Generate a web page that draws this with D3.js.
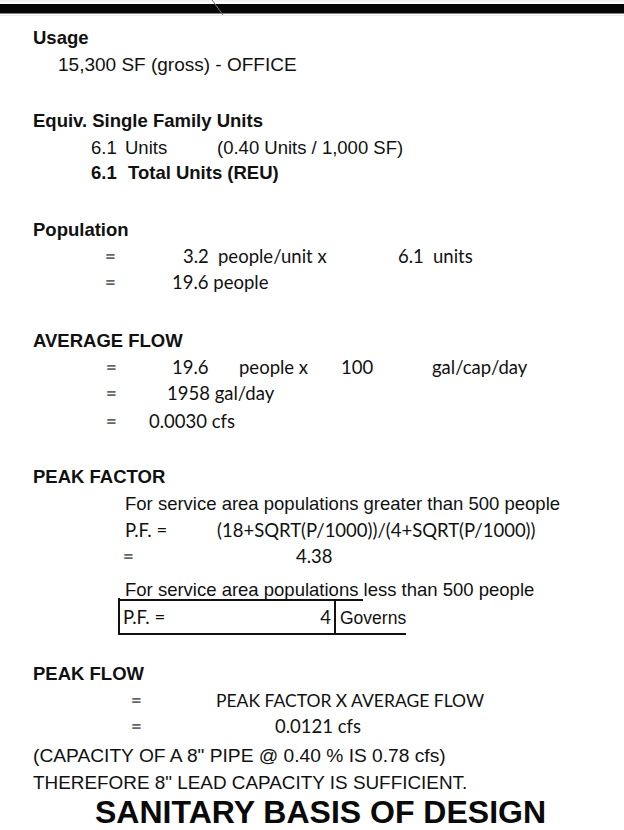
<!DOCTYPE html>
<html lang="en">

<head>
    <meta charset="UTF-8">
    <title>Sanitary Basis of Design</title>
    <script src="https://d3js.org/d3.v7.min.js"></script>
    <style>
        body {
            margin: 0;
            background: #fff;
        }

        .arial {
            font-family: "Liberation Sans", Arial, sans-serif;
            font-size: 18.5px;
            fill: #111;
        }

        .cali {
            font-family: Lato, Carlito, Calibri, sans-serif;
            font-size: 18.5px;
            fill: #111;
        }

        .bold {
            font-weight: bold;
        }

        .eq {
            fill: #666;
            font-weight: bold;
        }

        .box {
            stroke: #111;
            stroke-width: 2px;
            fill: none;
        }
    </style>
</head>

<body>
    <svg></svg>
</body>

<script>
    // values
    const headings = ["Usage", "Equiv. Single Family Units", "Population", "AVERAGE FLOW", "PEAK FACTOR", "PEAK FLOW"];
    const usage = ["15,300 SF (gross) - OFFICE"];
    const unitsRow = ["6.1", "Units", "(0.40 Units / 1,000 SF)"];
    const totalRow = ["6.1", "Total Units (REU)"];
    const populationRows = [
        ["=", "3.2", "people/unit x", "6.1", "units"],
        ["=", "19.6 people"]
    ];
    const flowRows = [
        ["=", "19.6", "people x", "100", "gal/cap/day"],
        ["=", "1958 gal/day"],
        ["=", "0.0030 cfs"]
    ];
    const peakFactorRows = [
        ["For service area populations greater than 500 people"],
        ["P.F. =", "(18+SQRT(P/1000))/(4+SQRT(P/1000))"],
        ["=", "4.38"],
        ["For service area populations less than 500 people"],
        ["P.F. =", "4", "Governs"]
    ];
    const peakFlowRows = [
        ["=", "PEAK FACTOR X AVERAGE FLOW"],
        ["=", "0.0121 cfs"]
    ];
    const notes = ["(CAPACITY OF A 8\" PIPE @ 0.40 % IS 0.78 cfs)", "THEREFORE 8\" LEAD CAPACITY IS SUFFICIENT."];
    const title = "SANITARY BASIS OF DESIGN";

    const width = 624, height = 830;

    const svg = d3.select("svg")
        .attr("width", width)
        .attr("height", height);

    // line number -> baseline
    const row = d3.scaleLinear().domain([0, 1]).range([44, 70.5]);

    // heavy rule across the top of the sheet
    svg.append("line")
        .attr("x1", 0).attr("x2", width)
        .attr("y1", 1).attr("y2", 1)
        .attr("stroke", "#e4e4e4");
    svg.append("rect")
        .attr("x", 0).attr("y", 4)
        .attr("width", width).attr("height", 9.5)
        .attr("fill", "#050505");
    svg.append("line")
        .attr("x1", 0).attr("x2", width)
        .attr("y1", 15.5).attr("y2", 15.5)
        .attr("stroke", "#ececec");
    svg.append("line")
        .attr("x1", 212).attr("y1", 0).attr("x2", 223).attr("y2", 15)
        .attr("stroke", "#777").attr("stroke-width", 1);

    // every line of the sheet: line number + cells [text, x, class, anchor, size]
    const A = "arial", C = "cali", B = "arial bold", E = "cali eq";
    const lines = [
        { u: 0, cells: [[headings[0], 33, B]] },
        { u: 1, cells: [[usage[0], 58, A, "start", 19]] },
        { u: 3.15, cells: [[headings[1], 33, B]] },
        { u: 4.15, cells: [[unitsRow[0], 91, A], [unitsRow[1], 125, A], [unitsRow[2], 217, A]] },
        { u: 5.1, cells: [[totalRow[0], 91, B], [totalRow[1], 128, B]] },
        { u: 7.25, cells: [[headings[2], 33, B]] },
        { u: 8.25, cells: [[populationRows[0][0], 105, E], [populationRows[0][1], 183, C], [populationRows[0][2], 218, C],
            [populationRows[0][3], 398, C], [populationRows[0][4], 433, C]] },
        { u: 9.25, cells: [[populationRows[1][0], 105, E], [populationRows[1][1], 172, C]] },
        { u: 11.45, cells: [[headings[3], 33, B]] },
        { u: 12.45, cells: [[flowRows[0][0], 106, E], [flowRows[0][1], 172, C], [flowRows[0][2], 239, C],
            [flowRows[0][3], 341, C], [flowRows[0][4], 432, C]] },
        { u: 13.45, cells: [[flowRows[1][0], 106, E], [flowRows[1][1], 167, C]] },
        { u: 14.5, cells: [[flowRows[2][0], 106, E], [flowRows[2][1], 149, C]] },
        { u: 16.55, cells: [[headings[4], 33, B]] },
        { u: 17.6, cells: [[peakFactorRows[0][0], 125, A]] },
        { u: 18.6, cells: [[peakFactorRows[1][0], 125, C], [peakFactorRows[1][1], 217, C]] },
        { u: 19.6, cells: [[peakFactorRows[2][0], 123, E], [peakFactorRows[2][1], 296, C]] },
        { u: 20.83, cells: [[peakFactorRows[3][0], 125, A]] },
        { u: 21.89, cells: [[peakFactorRows[4][0], 123, C], [peakFactorRows[4][1], 331, C, "end"], [peakFactorRows[4][2], 340, A, "start", 17.5]] },
        { u: 24, cells: [[headings[5], 33, B]] },
        { u: 25, cells: [[peakFlowRows[0][0], 131, E], [peakFlowRows[0][1], 216, C, "start", 17.5]] },
        { u: 26, cells: [[peakFlowRows[1][0], 131, E], [peakFlowRows[1][1], 275, C]] },
        { u: 27.1, cells: [[notes[0], 33, A, "start", 19.2]] },
        { u: 28.1, cells: [[notes[1], 33, A, "start", 18.9]] }
    ];

    const g = svg.append("g");
    lines.forEach(line => {
        g.selectAll(null)
            .data(line.cells)
            .enter().append("text")
            .attr("class", d => d[2])
            .attr("x", d => d[1])
            .attr("y", row(line.u))
            .attr("text-anchor", d => d[3] || "start")
            .style("font-size", d => d[4] ? d[4] + "px" : null)
            .text(d => d[0]);
    });

    // cell borders round the "P.F. = 4 | Governs" line
    const boxY = row(21.89);
    const box = d3.path();
    box.moveTo(119, boxY - 26); box.lineTo(119, boxY + 10); box.lineTo(406, boxY + 10);
    box.moveTo(119, boxY - 24); box.lineTo(363, boxY - 24);
    box.moveTo(335, boxY - 24); box.lineTo(335, boxY + 10);
    svg.append("path").attr("class", "box").attr("d", box.toString());

    // sheet title at the foot of the page
    svg.append("text")
        .attr("x", 95)
        .attr("y", row(29.4))
        .attr("font-family", "'Liberation Sans', Arial, sans-serif")
        .attr("font-weight", "bold")
        .attr("font-size", 32)
        .attr("fill", "#0a0a0a")
        .text(title);
</script>

</html>
